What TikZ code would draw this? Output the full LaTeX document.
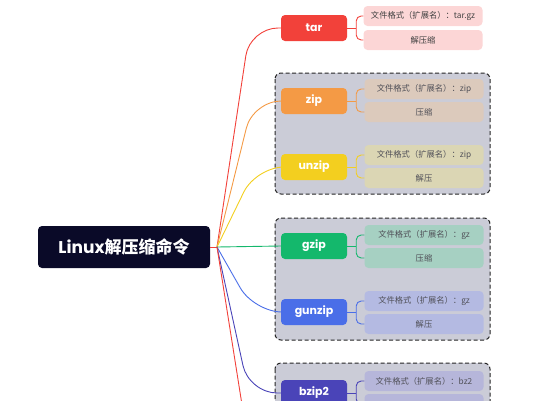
\documentclass[tikz,border=0pt]{standalone}
\usepackage{fontspec}
\setmainfont{Poppins}
\newfontfamily\cjk{Noto Sans CJK SC}
\usetikzlibrary{calc}
\definecolor{rootc}{HTML}{0A0A28}
\definecolor{tarc}{HTML}{F2413A}
\definecolor{tarl}{HTML}{FCD6D6}
\definecolor{zipc}{HTML}{F49A45}
\definecolor{zipl}{HTML}{DCCABC}
\definecolor{unzipc}{HTML}{F3CF1F}
\definecolor{unzipl}{HTML}{DBD6B4}
\definecolor{gzipc}{HTML}{14B86C}
\definecolor{gzipl}{HTML}{A6D0C2}
\definecolor{gunzipc}{HTML}{4A6EE8}
\definecolor{gunzipl}{HTML}{B4BAE2}
\definecolor{bzipc}{HTML}{4A44B8}
\definecolor{bzipl}{HTML}{B6B6DA}
\definecolor{grpbg}{HTML}{CBCCD7}
\definecolor{leaftxt}{HTML}{505058}
\tikzset{
  rootbox/.style={fill=rootc, rounded corners=4pt, minimum width=172pt, minimum height=42pt, inner sep=0pt, text=white, font=\fontsize{17}{20}\selectfont\bfseries},
  branchbox/.style={fill=#1, rounded corners=4pt, minimum width=66pt, minimum height=26pt, inner sep=0pt, text=white, font=\fontsize{11}{13}\selectfont\bfseries},
  leafbox/.style={fill=#1, rounded corners=4pt, minimum width=119pt, minimum height=20pt, inner sep=0pt, text=leaftxt, font=\cjk\fontsize{8.3}{10}\selectfont},
  grpbox/.style={fill=grpbg, draw=black!85, dashed, dash pattern=on 4pt off 2.5pt, line width=1pt, rounded corners=6pt},
  conn/.style={draw=#1, line width=0.9pt, rounded corners=28pt},
  brk/.style={draw=#1, line width=0.9pt, rounded corners=5pt},
}
\begin{document}
\begin{tikzpicture}[x=1pt,y=-1pt]
\useasboundingbox (0,0) rectangle (540,400);
\clip (0,0) rectangle (540,400);
% groups
\draw[grpbox] (275,73) rectangle (490,194);
\draw[grpbox] (275,218) rectangle (490,340);
\draw[grpbox] (275,363) rectangle (490,460);
% root and fan
\node[rootbox] (root) at (124,247) {Linux{\cjk 解压缩命令}};
\coordinate (fan) at (217,247);
\coordinate (more) at (246,430);
% branches
\node[branchbox=tarc] (tar) at (314,28) {tar};
\node[branchbox=zipc] (zip) at (314,101) {zip};
\node[branchbox=unzipc] (unzip) at (314,167) {unzip};
\node[branchbox=gzipc] (gzip) at (314,246) {gzip};
\node[branchbox=gunzipc] (gunzip) at (314,312) {gunzip};
\node[branchbox=bzipc] (bzip) at (314,393) {bzip2};
% connectors from root
\draw[tarc, line width=0.9pt] (root.east) -- (fan);
\draw[conn=tarc] (fan) -- (250,28) -- (tar.west);
\draw[conn=zipc] (fan) -- (253,101) -- (zip.west);
\draw[conn=unzipc] (fan) -- (256,167) -- (unzip.west);
\draw[gzipc, line width=0.9pt] (fan) -- (gzip.west);
\draw[conn=gunzipc] (fan) -- (254,312) -- (gunzip.west);
\draw[conn=bzipc] (fan) -- (249,393) -- (bzip.west);
\draw[tarc, line width=0.9pt] (fan) -- (more);
% leaves
\node[leafbox=tarl, text=black!75] (tar1) at (423,16) {文件格式（扩展名）：tar.gz};
\node[leafbox=tarl, text=black!75] (tar2) at (423,40) {解压缩};
\node[leafbox=zipl] (zip1) at (424,89) {文件格式（扩展名）：zip};
\node[leafbox=zipl] (zip2) at (424,112) {压缩};
\node[leafbox=unzipl] (unzip1) at (424,155) {文件格式（扩展名）：zip};
\node[leafbox=unzipl] (unzip2) at (424,178) {解压};
\node[leafbox=gzipl] (gzip1) at (424,235) {文件格式（扩展名）：gz};
\node[leafbox=gzipl] (gzip2) at (424,258) {压缩};
\node[leafbox=gunzipl] (gunzip1) at (424,301) {文件格式（扩展名）：gz};
\node[leafbox=gunzipl] (gunzip2) at (424,324) {解压};
\node[leafbox=bzipl] (bzip1) at (424,381) {文件格式（扩展名）：bz2};
\node[leafbox=bzipl] (bzip2b) at (424,404) {};
% brackets
\foreach \b/\c in {tar/tarc, zip/zipc, unzip/unzipc, gzip/gzipc, gunzip/gunzipc}{
  \draw[\c, line width=0.9pt] (\b.east) -- ++(9,0);
  \draw[brk=\c] (\b1.west) -| ($(\b.east)+(9,0)$) |- (\b2.west);
}
\draw[bzipc, line width=0.9pt] (bzip.east) -- ++(9,0);
\draw[brk=bzipc] (bzip1.west) -| ($(bzip.east)+(9,0)$) |- (bzip2b.west);
\end{tikzpicture}
\end{document}
